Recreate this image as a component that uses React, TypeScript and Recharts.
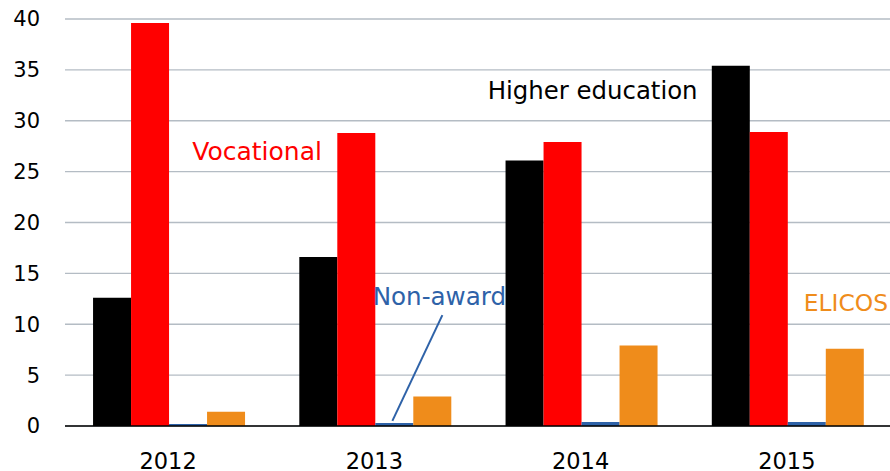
import React from 'react';
import { BarChart, Bar, XAxis, YAxis, CartesianGrid, ReferenceDot, ReferenceLine } from 'recharts';

const years = ['2012', '2013', '2014', '2015'];
const higherEducation = [12.6, 16.6, 26.1, 35.4];
const vocational = [39.6, 28.8, 27.9, 28.9];
const nonAward = [0.2, 0.3, 0.4, 0.4];
const elicos = [1.4, 2.9, 7.9, 7.6];
const yTicks = [0, 5, 10, 15, 20, 25, 30, 35, 40];

const data = years.map((y, i) => ({
  year: y,
  he: higherEducation[i],
  voc: vocational[i],
  na: nonAward[i],
  el: elicos[i],
}));

const FONT = '"DejaVu Sans", sans-serif';
const ANN_FONT = '"DejaVu Sans", sans-serif';

const makeLabel = (text: string, color: string, dx: number, size: number) => (props: any) => {
  const vb = props.viewBox || {};
  const cx = (vb.x ?? 0) + (vb.width ?? 0) / 2 + dx;
  const cy = (vb.y ?? 0) + (vb.height ?? 0) / 2;
  return (
    <text x={cx} y={cy} textAnchor="middle" dominantBaseline="central" fill={color} fontSize={size} fontFamily={ANN_FONT}>
      {text}
    </text>
  );
};

const LeaderShape = (props: any) => {
  const { x1, y1, x2, y2 } = props;
  return <line x1={x1 + 18} y1={y1} x2={x2 + 68} y2={y2} stroke="#2e62a8" strokeWidth={2} />;
};

export default function App() {
  return (
    <div style={{ position: 'absolute', left: 0, top: 0, width: 890, height: 471, background: '#fff' }}>
      <BarChart
        width={890}
        height={471}
        data={data}
        margin={{ top: 19, right: 0, bottom: 0, left: 0 }}
        barGap={0}
        barCategoryGap="13.6%"
      >
        <CartesianGrid vertical={false} stroke="#b4bcc4" strokeWidth={1.3} />
        <XAxis
          dataKey="year"
          axisLine={{ stroke: '#000', strokeWidth: 1.5 }}
          tickLine={false}
          tickMargin={21}
          height={45}
          tick={{ fill: '#000', fontSize: 22.5, fontFamily: FONT }}
        />
        <YAxis
          domain={[0, 40]}
          ticks={yTicks}
          width={65}
          axisLine={false}
          tickLine={false}
          tickSize={0}
          tickMargin={25}
          tick={{ fill: '#000', fontSize: 21, fontFamily: FONT }}
          interval={0}
        />
        <Bar dataKey="he" fill="#000000" isAnimationActive={false} />
        <Bar dataKey="voc" fill="#ff0000" isAnimationActive={false} />
        <Bar dataKey="na" fill="#2e62a8" isAnimationActive={false} />
        <Bar dataKey="el" fill="#ef8c1b" isAnimationActive={false} />
        <ReferenceLine
          segment={[{ x: '2013', y: 0.5 }, { x: '2013', y: 10.9 }]}
          shape={LeaderShape}
        />
        <ReferenceDot x="2012" y={27} r={0} stroke="none" fill="none" label={makeLabel('Vocational', '#ff0000', 89, 25)} />
        <ReferenceDot x="2014" y={33} r={0} stroke="none" fill="none" label={makeLabel('Higher education', '#000000', 12, 24.4)} />
        <ReferenceDot x="2013" y={12.7} r={0} stroke="none" fill="none" label={makeLabel('Non-award', '#2e62a8', 65, 24.6)} />
        <ReferenceDot x="2015" y={12.1} r={0} stroke="none" fill="none" label={makeLabel('ELICOS', '#ef8c1b', 59, 23.4)} />
      </BarChart>
    </div>
  );
}
